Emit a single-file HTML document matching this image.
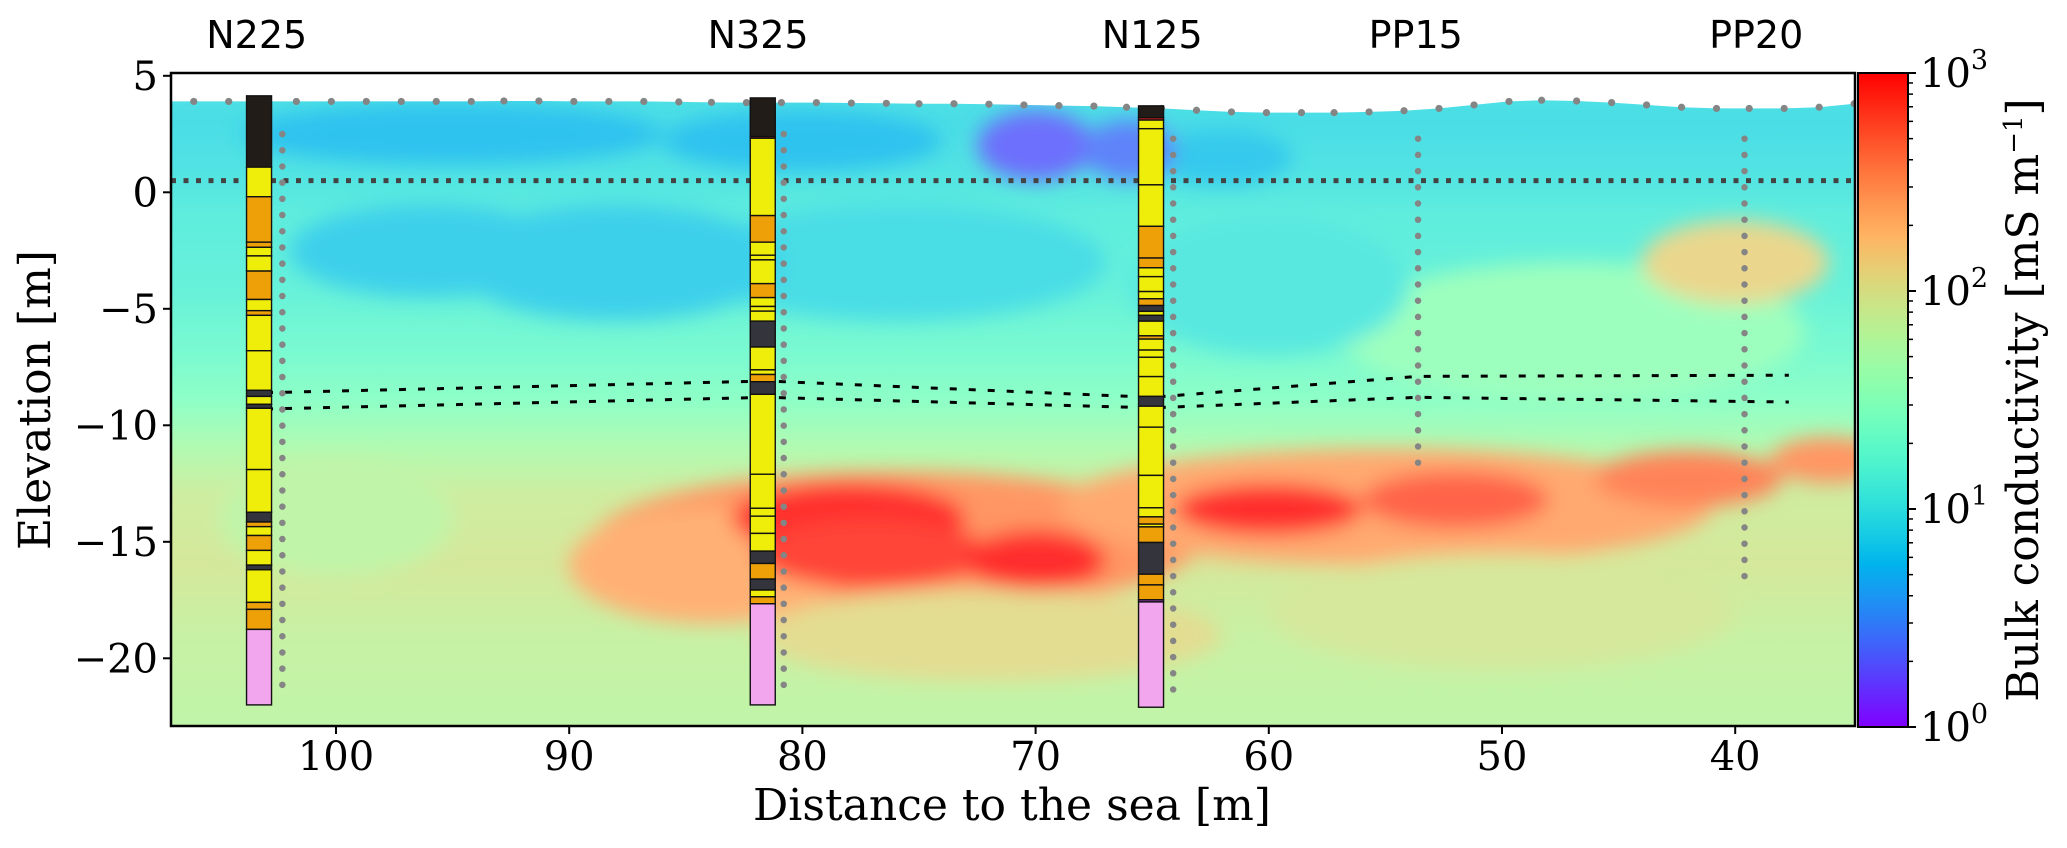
<!DOCTYPE html>
<html><head><meta charset="utf-8"><style>
html,body{margin:0;padding:0;background:#fff;width:2067px;height:848px;overflow:hidden}
svg text{font-family:"DejaVu Serif","Liberation Serif",serif}
.sans{font-family:"DejaVu Sans","Liberation Sans",sans-serif}
</style></head><body>
<svg id="chart" xmlns="http://www.w3.org/2000/svg" width="2067" height="848" viewBox="0 0 2067 848">
<defs>
<clipPath id="plotclip"><rect x="171" y="73" width="1684" height="653"/></clipPath>
<clipPath id="surfclip"><polygon id="surfpoly" points=""/></clipPath>
<filter id="blur" x="-20%" y="-20%" width="140%" height="140%"><feGaussianBlur stdDeviation="10"/></filter>
<linearGradient id="basegrad" x1="0" y1="0" x2="0" y2="1" gradientUnits="userSpaceOnUse"></linearGradient>
<linearGradient id="cbgrad" x1="0" y1="1" x2="0" y2="0"></linearGradient>
</defs>
<g id="field" clip-path="url(#plotclip)"><g clip-path="url(#surfclip)"><rect id="baserect" x="171" y="60" width="1684" height="680" fill="url(#basegrad)"/><g id="blobs" filter="url(#blur)"></g></g></g>
<g id="overlay" clip-path="url(#plotclip)"></g>
<rect x="171" y="73" width="1684" height="653" fill="none" stroke="#000" stroke-width="2.5"/>
<g id="axes"></g>
<g id="colorbar"></g>
<text x="1012" y="820" font-size="44" text-anchor="middle">Distance to the sea [m]</text>
<text transform="translate(50,400) rotate(-90)" font-size="44" text-anchor="middle">Elevation [m]</text>
<text transform="translate(2038,400) rotate(-90)" font-size="44" text-anchor="middle">Bulk conductivity [mS m<tspan dy="-16" font-size="26">−1</tspan><tspan dy="16">]</tspan></text>
</svg>
<script>
const xTicks=[100,90,80,70,60,50,40];
const yTicks=[5,0,-5,-10,-15,-20];
const cbTicks=[3,2,1,0];
const baseProfileElev=[5,3,1,-1,-4,-7,-9,-11,-13,-16,-19,-23];
const baseProfileLog=[1.0,0.95,1.0,1.1,1.15,1.3,1.45,1.7,1.9,1.95,1.85,1.8];
const blobDist=[95,80,70,66,62,88,96,76,60,47,40,78,70,77,60,52,42,36,76,84,55,72,100,50];
const blobElev=[2.5,2.2,2,1.8,1.5,-3,-2.5,-3,-4,-6,-3,-14,-15.8,-15.5,-13.6,-13.2,-12.3,-11.5,-15,-16,-13.5,-19,-14,-18];
const blobRx=[9,6,2.5,2,3,7,6,9,6,10,4,5,3,5,4,4,4,2.5,13,6,14,10,5,10];
const blobRy=[1.3,1.3,1.5,1.3,1.2,2.5,2,2.5,3,3,1.8,1.5,1.3,1.5,1.1,1.2,1.2,1,3,2.5,2.5,2,2.5,2.5];
const blobLog=[0.75,0.75,0.3,0.4,0.8,0.85,0.85,0.95,1.05,1.55,2.1,3.1,3.05,2.9,3.0,2.75,2.6,2.5,2.5,2.35,2.4,2.05,1.8,1.95];
const surfDist=[106.1,104.6,103.1,101.7,100.2,98.7,97.2,95.7,94.2,92.8,91.3,89.8,88.3,86.8,85.3,83.9,82.4,80.9,79.4,77.9,76.4,75.0,73.5,72.0,70.5,69.0,67.5,66.1,64.6,63.1,61.6,60.1,58.6,57.2,55.7,54.2,52.7,51.2,49.7,48.3,46.8,45.3,43.8,42.3,40.8,39.4,37.9,36.4,34.9];
const surfElev=[3.9,3.9,3.9,3.9,3.9,3.9,3.9,3.9,3.9,3.92,3.92,3.9,3.9,3.9,3.88,3.86,3.85,3.85,3.85,3.83,3.82,3.8,3.8,3.78,3.75,3.72,3.7,3.65,3.6,3.52,3.45,3.42,3.42,3.42,3.45,3.5,3.6,3.75,3.9,3.95,3.92,3.85,3.75,3.65,3.6,3.6,3.6,3.65,3.8];
const wellNames=["N225","N325","N125","PP15","PP20"];
const wellLabelDist=[103.4,81.9,65.0,53.7,39.1];
const elecDist=[102.3,80.8,64.1,53.6,39.6];
const elecTop=[2.5,2.5,2.3,2.3,2.3];
const elecBottom=[-21.6,-21.6,-21.6,-12.0,-16.9];
const waterTable=0.5;
const upperDashDist=[103,81.5,65,53.6,37.7];
const upperDashElev=[-8.6,-8.1,-8.8,-7.9,-7.85];
const lowerDashDist=[103,81.5,65,53.6,37.7];
const lowerDashElev=[-9.3,-8.8,-9.25,-8.8,-9.0];
const logDist=[103.3,81.7,65.05];
const logTops=[
 [4.14,1.08,-0.19,-2.14,-2.36,-2.73,-3.38,-4.6,-5.08,-5.28,-6.8,-8.5,-8.76,-9.1,-9.27,-11.9,-13.73,-14.15,-14.35,-14.73,-15.37,-16.0,-16.2,-17.6,-17.9,-18.76],
 [4.05,2.39,2.32,-1.0,-2.14,-2.7,-2.9,-3.92,-4.52,-4.9,-5.1,-5.53,-6.64,-7.62,-7.82,-8.13,-8.67,-12.1,-13.56,-13.9,-14.64,-15.4,-15.93,-16.6,-17.07,-17.36,-17.66],
 [3.71,3.2,3.1,2.73,0.32,-1.46,-2.82,-3.24,-3.62,-4.26,-4.57,-4.86,-5.11,-5.28,-5.53,-6.16,-6.3,-6.77,-7.08,-7.91,-8.76,-9.18,-10.08,-12.15,-13.54,-13.93,-14.24,-14.36,-15.03,-16.39,-16.85,-17.49,-17.58]
];
const logBottoms=[-22.0,-22.0,-22.1];
const logTypes=[
 "KYOOYYOYOYYDYDYYDOYOYDYOOP",
 "KRYOYYYOYYYDYYODYYYYYDODYOP",
 "KRYYYOOYYYODYDYOYYYYDYYYYOYODOOMP"
];
const layerColor={K:"#221c18",Y:"#eeee0a",O:"#eea008",D:"#34343c",P:"#f2a6ee",R:"#e82020",M:"#b040d0"};

const NS="http://www.w3.org/2000/svg";
const X=d=>336+(100-d)*23.32;
const Y=e=>75.8+(5-e)*23.3;
function mk(tag,attrs,parent){const el=document.createElementNS(NS,tag);for(const k in attrs)el.setAttribute(k,attrs[k]);parent.appendChild(el);return el;}
function rainbow(x){x=Math.max(0,Math.min(1,x));return [Math.min(1,Math.abs(2*x-0.5)),Math.sin(Math.PI*x),Math.cos(Math.PI*x/2)];}
function col(logv,alpha){const c=rainbow(logv/3);const a=alpha===undefined?1:alpha;return "rgb("+c.map(v=>Math.round(255*(v*a+(1-a)))).join(",")+")";}
const A=0.82;

const bg=document.getElementById('basegrad');
bg.setAttribute('y1',Y(baseProfileElev[0]));bg.setAttribute('y2',Y(baseProfileElev[baseProfileElev.length-1]));
const span=Y(baseProfileElev[baseProfileElev.length-1])-Y(baseProfileElev[0]);
baseProfileElev.forEach((e,i)=>{mk('stop',{offset:((Y(e)-Y(baseProfileElev[0]))/span).toFixed(4),'stop-color':col(baseProfileLog[i],A)},bg);});
const pts=[[X(surfDist[0])-30,Y(surfElev[0])]].concat(surfDist.map((d,i)=>[X(d),Y(surfElev[i])]));
pts.push([X(surfDist[surfDist.length-1])+30,Y(surfElev[surfElev.length-1])],[1900,760],[150,760]);
document.getElementById('surfpoly').setAttribute('points',pts.map(p=>p.join(',')).join(' '));
const blobs=document.getElementById('blobs');
const order=blobDist.map((d,i)=>i).sort((a,b)=>(blobRx[b]*blobRy[b])-(blobRx[a]*blobRy[a]));
order.forEach(i=>{const el=mk('ellipse',{cx:X(blobDist[i]),cy:Y(blobElev[i]),rx:blobRx[i]*23.32,ry:blobRy[i]*23.3,fill:col(blobLog[i],A)},blobs);

});

const ov=document.getElementById('overlay');
const wt=mk('line',{x1:171,x2:1855,y1:Y(waterTable),y2:Y(waterTable),stroke:'#444',"stroke-width":5,"stroke-dasharray":"5 7.5"},ov);


[[upperDashDist,upperDashElev,'upper-boundary-line'],[lowerDashDist,lowerDashElev,'lower-boundary-line']].forEach(([ds,es,nm])=>{
 const pl=mk('polyline',{points:ds.map((d,i)=>X(d)+','+Y(es[i])).join(' '),fill:'none',stroke:'#000',"stroke-width":3,"stroke-dasharray":"7 12"},ov);
 
 
});
elecDist.forEach((d,i)=>{const l=mk('line',{x1:X(d),x2:X(d),y1:Y(elecTop[i]),y2:Y(elecBottom[i]),stroke:'#858585',"stroke-width":6.5,"stroke-linecap":"round","stroke-dasharray":"0 16.2"},ov);

});
surfDist.forEach((d,i)=>{const c=mk('circle',{cx:X(d),cy:Y(surfElev[i]),r:3.6,fill:'#858585'},ov);

});
logDist.forEach((d,w)=>{
 const g=mk('g',{},ov);
 
 
 const tops=logTops[w];
 tops.forEach((t,k)=>{const b=k<tops.length-1?tops[k+1]:logBottoms[w];
  const r=mk('rect',{x:X(d)-12.5,y:Y(t),width:25,height:Math.max(1,Y(b)-Y(t)),fill:layerColor[logTypes[w][k]],stroke:'#111',"stroke-width":1.4},g);
  
  });
});
const ax=document.getElementById('axes');
xTicks.forEach(v=>{const l=mk('line',{x1:X(v),x2:X(v),y1:726,y2:734,stroke:'#000',"stroke-width":2},ax);


const t=mk('text',{x:X(v),y:770,"font-size":40,"text-anchor":"middle"},ax);t.textContent=v;

});
yTicks.forEach(v=>{const l=mk('line',{x1:163,x2:171,y1:Y(v),y2:Y(v),stroke:'#000',"stroke-width":2},ax);


const t=mk('text',{x:158,y:Y(v)+14,"font-size":40,"text-anchor":"end"},ax);t.textContent=(v<0?'\u2212'+(-v):v);

});
wellNames.forEach((n,i)=>{const t=mk('text',{x:X(wellLabelDist[i]),y:48,"font-size":38,"text-anchor":"middle",class:'sans'},ax);t.textContent=n;

});
const cg=document.getElementById('cbgrad');
for(let i=0;i<=20;i++){mk('stop',{offset:i/20,'stop-color':col(3*i/20,1)},cg);}
const cb=document.getElementById('colorbar');
const CB0=727,CB1=73,cbY=l=>CB0+(CB1-CB0)*l/3;
const cr=mk('rect',{x:1858,y:73,width:50,height:654,fill:'url(#cbgrad)',stroke:'#000',"stroke-width":2},cb);


for(let dec=0;dec<3;dec++){for(let m=2;m<=9;m++){const yy=cbY(dec+Math.log10(m));
 const l=mk('line',{x1:1908,x2:1913,y1:yy,y2:yy,stroke:'#000',"stroke-width":1.5},cb);
 
 }}
cbTicks.forEach(v=>{const yy=cbY(v);
 const l=mk('line',{x1:1908,x2:1916,y1:yy,y2:yy,stroke:'#000',"stroke-width":2},cb);
 
 
 const t=mk('text',{x:1920,y:yy+14,"font-size":40},cb);
 
 
 t.appendChild(document.createTextNode('10'));
 const s=mk('tspan',{dy:-18,"font-size":27},t);s.textContent=v;});
</script>
</body></html>
